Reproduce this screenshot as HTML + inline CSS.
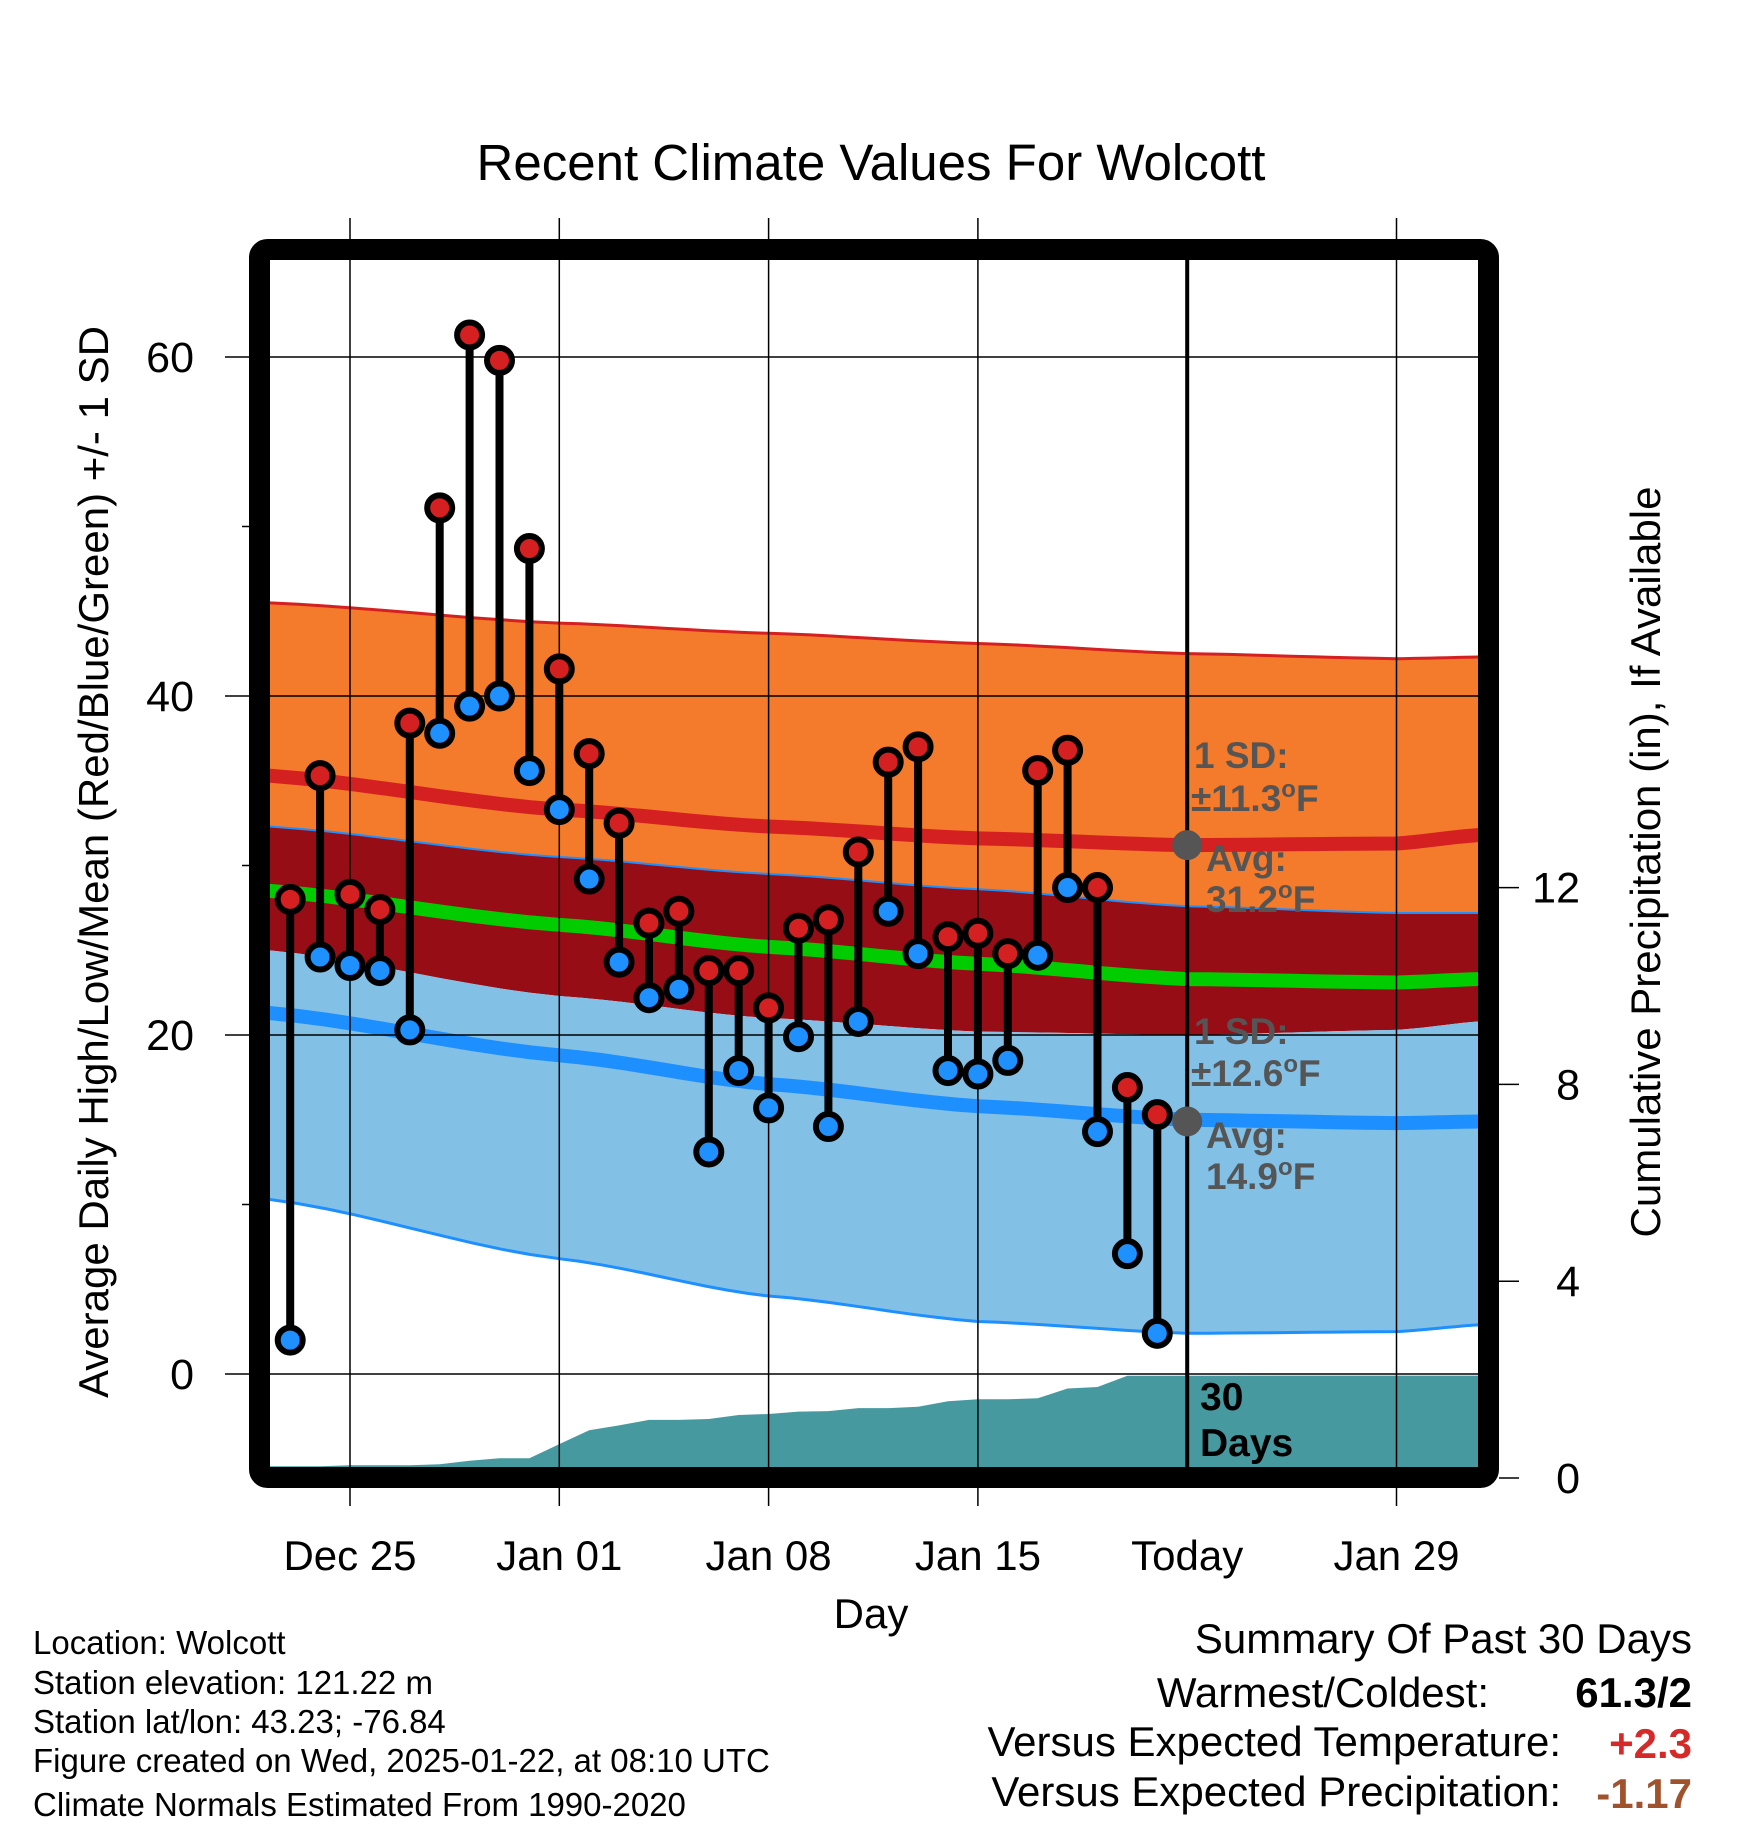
<!DOCTYPE html>
<html><head><meta charset="utf-8"><style>
html,body{margin:0;padding:0;background:#fff}
svg{display:block;font-family:"Liberation Sans",Arial,sans-serif}
</style></head><body>
<svg id="chart" width="1748" height="1828" viewBox="0 0 1748 1828" xmlns="http://www.w3.org/2000/svg">
<defs><clipPath id="plotclip"><rect x="270" y="260" width="1208" height="1208"/></clipPath></defs>
<text x="871" y="180" font-size="51" text-anchor="middle">Recent Climate Values For Wolcott</text>
<g id="grid"></g>
<g id="bands" clip-path="url(#plotclip)"></g>
<g id="precip" clip-path="url(#plotclip)"></g>
<g id="gridover"></g>
<g id="marks"></g>
<g id="annot"></g>
<rect x="259.5" y="249.5" width="1229" height="1228" rx="8" fill="none" stroke="#000" stroke-width="21"/>
<g id="axes"></g>
<g font-size="33">
<text x="33" y="1654">Location: Wolcott</text>
<text x="33" y="1694">Station elevation: 121.22 m</text>
<text x="33" y="1733">Station lat/lon: 43.23; -76.84</text>
<text x="33" y="1772">Figure created on Wed, 2025-01-22, at 08:10 UTC</text>
<text x="33" y="1816">Climate Normals Estimated From 1990-2020</text>
</g>
<g font-size="42" text-anchor="end">
<text x="1692" y="1653">Summary Of Past 30 Days</text>
<text x="1489" y="1707">Warmest/Coldest:</text>
<text x="1692" y="1707" font-weight="bold">61.3/2</text>
<text x="1561" y="1756">Versus Expected Temperature:</text>
<text x="1692" y="1758" font-weight="bold" fill="#d42a2a">+2.3</text>
<text x="1561" y="1806">Versus Expected Precipitation:</text>
<text x="1692" y="1808" font-weight="bold" fill="#a0522d">-1.17</text>
</g>
</svg>
<script>
// day offsets relative to Dec 25
const days=[-2,-1,0,1,2,3,4,5,6,7,8,9,10,11,12,13,14,15,16,17,18,19,20,21,22,23,24,25,26,27];
const highs=[28,35.3,28.3,27.4,38.4,51.1,61.3,59.8,48.7,41.6,36.6,32.5,26.6,27.3,23.8,23.8,21.6,26.3,26.8,30.8,36.1,37.0,25.8,26.0,24.8,35.6,36.8,28.7,16.9,15.3];
const lows=[2,24.6,24.1,23.8,20.3,37.8,39.4,40,35.6,33.3,29.2,24.3,22.2,22.7,13.1,17.9,15.7,19.9,14.6,20.8,27.3,24.8,17.9,17.7,18.5,24.7,28.7,14.3,7.1,2.4];
const precip=[0.24,0.24,0.26,0.26,0.26,0.28,0.35,0.4,0.4,0.69,0.97,1.07,1.18,1.18,1.2,1.28,1.3,1.35,1.36,1.42,1.42,1.45,1.56,1.6,1.6,1.62,1.82,1.85,2.08,2.08];
const normDays=[-2.7,7,14,21,28,35,37.8];
const highPlus=[45.5,44.3,43.7,43.1,42.5,42.2,42.3];
const highAvg=[35.3,33.3,32.3,31.6,31.2,31.3,31.8];
const highMinus=[32.3,30.5,29.5,28.6,27.6,27.2,27.2];
const meanAvg=[28.5,26.5,25.2,24.2,23.3,23.1,23.3];
const lowPlus=[25,22.3,21,20.2,20,20.3,20.8];
const lowAvg=[21.3,18.8,17.1,15.8,15.0,14.8,14.9];
const lowMinus=[10.3,6.8,4.6,3.1,2.4,2.5,2.9];
const xTickDays=[0,7,14,21,28,35];
const xTickLabels=["Dec 25","Jan 01","Jan 08","Jan 15","Today","Jan 29"];
const yTicks=[0,20,40,60];
const yMinor=[10,30,50];
const pTicks=[0,4,8,12];

const X=d=>350+d*29.9;
const Y=v=>1374-v*16.95;
const P=p=>1478-p*49.2;
const NS="http://www.w3.org/2000/svg";
function mk(tag,attrs,parent){const e=document.createElementNS(NS,tag);for(const k in attrs)e.setAttribute(k,attrs[k]);parent.appendChild(e);return e;}
function pts(xs,ys,f){return xs.map((d,i)=>X(d).toFixed(1)+','+f(ys[i]).toFixed(1));}
function smooth(xs,ys){
  const ox=[],oy=[];
  for(let i=0;i<xs.length-1;i++){for(let t=0;t<10;t++){const u=t/10;const s=u*u*(3-2*u);const lin=ys[i]+(ys[i+1]-ys[i])*u;ox.push(xs[i]+(xs[i+1]-xs[i])*u);oy.push(lin*0.6+(ys[i]+(ys[i+1]-ys[i])*s)*0.4);}}
  ox.push(xs[xs.length-1]);oy.push(ys[ys.length-1]);return [ox,oy];
}
const bands=document.getElementById('bands');
function band(up,lo,fill,name){const [ax,ay]=smooth(normDays,up);const [bx,by]=smooth(normDays,lo);
  const p=pts(ax,ay,Y).concat(pts(bx,by,Y).reverse());
  const e=mk('polygon',{points:p.join(' '),fill:fill},bands);
  
  }
function line(vals,color,w,name){const [ax,ay]=smooth(normDays,vals);
  const e=mk('polyline',{points:pts(ax,ay,Y).join(' '),fill:'none',stroke:color,'stroke-width':w},bands);
  
  }
band(highPlus,highMinus,'#f47a2c','high-sd-band');
band(highMinus,lowPlus,'#960d16','mean-band');
band(lowPlus,lowMinus,'#82c0e6','low-sd-band');
line(highPlus,'#d42020',3,'high-plus-sd-line');
line(highAvg,'#d42020',14,'high-average-line');
line(highMinus,'#1e8fff',2,'high-minus-sd-line');
line(meanAvg,'#00cc00',14,'mean-average-line');
line(lowAvg,'#1e8fff',14,'low-average-line');
line(lowMinus,'#1e8fff',3,'low-minus-sd-line');

const pr=document.getElementById('precip');
let pp=[X(-2.7)+','+P(0),X(-2.7)+','+P(precip[0])];
days.forEach((d,i)=>{pp.push(X(d).toFixed(1)+','+P(precip[i]).toFixed(1));});
pp.push(X(37.8)+','+P(precip[precip.length-1]));pp.push(X(37.8)+','+P(0));
const pa=mk('polygon',{points:pp.join(' '),fill:'#4799a0'},pr);



const g=document.getElementById('gridover');
xTickDays.forEach((d,i)=>{if(i===4)return;const e=mk('line',{x1:X(d),x2:X(d),y1:218,y2:1506,stroke:'#000','stroke-width':1.5},g);
  
  });
yTicks.forEach(v=>{const e=mk('line',{x1:225,x2:1478,y1:Y(v),y2:Y(v),stroke:'#000','stroke-width':1.5},g);
  
  });
yMinor.forEach(v=>{const e=mk('line',{x1:242,x2:260,y1:Y(v),y2:Y(v),stroke:'#000','stroke-width':1.5},g);
  
  });
const tl=mk('line',{x1:X(28),x2:X(28),y1:250,y2:1478,stroke:'#000','stroke-width':4},g);



const m=document.getElementById('marks');
days.forEach((d,i)=>{
  const s=mk('line',{x1:X(d),x2:X(d),y1:Y(highs[i]),y2:Y(lows[i]),stroke:'#000','stroke-width':8},m);
  
  });
days.forEach((d,i)=>{
  const h=mk('circle',{cx:X(d),cy:Y(highs[i]),r:12.5,fill:'#d42020',stroke:'#000','stroke-width':6},m);
  
  
  const l=mk('circle',{cx:X(d),cy:Y(lows[i]),r:12.5,fill:'#1e90ff',stroke:'#000','stroke-width':6},m);
  
  });

const an=document.getElementById('annot');
[[31.2],[14.9]].forEach(v=>{const c=mk('circle',{cx:X(28),cy:Y(v[0]),r:15,fill:'#555'},an);
  
  });
const at=[["1 SD:","",1194,768],["±11.3","F",1191,811],["Avg:","",1206,871],["31.2","F",1206,912],["1 SD:","",1194,1044],["±12.6","F",1191,1086],["Avg:","",1206,1148],["14.9","F",1206,1189]];
at.forEach(a=>{const t=mk('text',{x:a[2],y:a[3],'font-size':37,'font-weight':'bold',fill:'#555'},an);
  t.appendChild(document.createTextNode(a[0]));
  if(a[1]){const s=mk('tspan',{'font-size':24,dy:-14},t);s.textContent='o';const f=mk('tspan',{dy:14},t);f.textContent=a[1];}
  
  });
[["30",1200,1410],["Days",1200,1456]].forEach(a=>{const t=mk('text',{x:a[1],y:a[2],'font-size':39,'font-weight':'bold',fill:'#000'},an);t.textContent=a[0];
  
  });

const ax=document.getElementById('axes');
yTicks.forEach(v=>{const t=mk('text',{x:194,y:Y(v)+15,'font-size':43,'text-anchor':'end'},ax);t.textContent=v;
  
  });
pTicks.forEach(v=>{const e=mk('line',{x1:1499,x2:1519,y1:P(v),y2:P(v),stroke:'#000','stroke-width':1.5},ax);
  
  
  const t=mk('text',{x:1580,y:P(v)+15,'font-size':43,'text-anchor':'end'},ax);t.textContent=v;
  
  });
xTickDays.forEach((d,i)=>{const t=mk('text',{x:X(d),y:1570,'font-size':42,'text-anchor':'middle'},ax);t.textContent=xTickLabels[i];
  
  });
const xt=mk('text',{x:871,y:1628,'font-size':42,'text-anchor':'middle'},ax);xt.textContent='Day';


const yt=mk('text',{x:0,y:0,'font-size':42,'text-anchor':'middle',transform:'translate(108,862) rotate(-90)'},ax);yt.textContent='Average Daily High/Low/Mean (Red/Blue/Green) +/- 1 SD';


const rt=mk('text',{x:0,y:0,'font-size':42,'text-anchor':'middle',transform:'translate(1660,862) rotate(-90)'},ax);rt.textContent='Cumulative Precipitation (in), If Available';


</script>
</body></html>
